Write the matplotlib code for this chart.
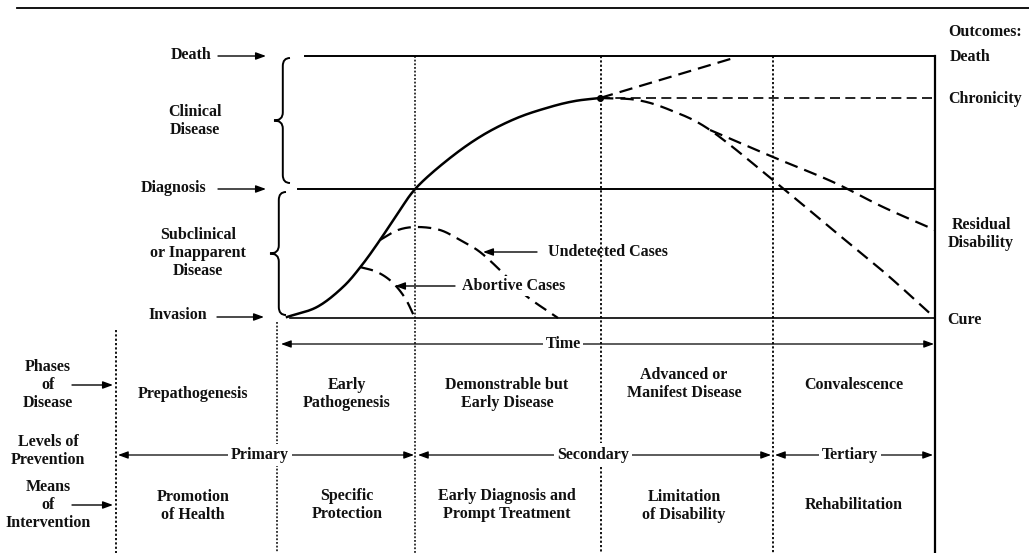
import numpy as np
import matplotlib
matplotlib.use("Agg")
import matplotlib.pyplot as plt
from matplotlib.path import Path
from matplotlib.patches import PathPatch

# ---------------- data (pixel coordinates) ----------------
# main disease course (solid)
course_x = [287, 317, 343, 362, 380, 398, 417, 450, 483, 517, 550, 575, 600]
course_y = [317, 307, 287, 265, 240, 213, 187, 158, 135, 118, 107, 101, 98]
# undetected cases (dashed)
undet_x = [380, 398, 417, 440, 460, 480, 503, 525, 558]
undet_y = [240, 230, 227, 230, 240, 252, 273, 295, 318]
# abortive cases (dashed)
abort_x = [360, 377, 392, 405, 415]
abort_y = [267, 272, 282, 298, 318]
# outcomes after the peak
death_x = [600, 737]
death_y = [98, 57]
chron_x = [600, 935]
chron_y = [98, 98]
cure_x = [600, 637, 670, 710, 773, 833, 885, 935]
cure_y = [98, 100, 110, 130, 180, 230, 273, 318]
resid_x = [710, 773, 833, 883, 935]
resid_y = [130, 157, 182, 207, 230]

level_names = ["Death", "Diagnosis", "Invasion"]
level_y = [56, 189, 318]
outcome_names = ["Outcomes:", "Death", "Chronicity", "Residual\nDisability", "Cure"]
phase_labels = ["Prepathogenesis", "Early\nPathogenesis", "Demonstrable but\nEarly Disease",
                "Advanced or\nManifest Disease", "Convalescence"]
means_labels = ["Promotion\nof Health", "Specific\nProtection", "Early Diagnosis and\nPrompt Treatment",
                "Limitation\nof Disability", "Rehabilitation"]
prevention_labels = ["Primary", "Secondary", "Tertiary"]
row_labels = ["Phases\nof\nDisease", "Levels of\nPrevention", "Means\nof\nIntervention"]

# ---------------- helpers ----------------
def smooth(xs, ys, n=20):
    p = np.column_stack([xs, ys]).astype(float)
    p = np.vstack([2 * p[0] - p[1], p, 2 * p[-1] - p[-2]])
    out = []
    for i in range(1, len(p) - 2):
        p0, p1, p2, p3 = p[i - 1], p[i], p[i + 1], p[i + 2]
        t = np.linspace(0, 1, n, endpoint=False)[:, None]
        seg = 0.5 * ((2 * p1) + (-p0 + p2) * t + (2 * p0 - 5 * p1 + 4 * p2 - p3) * t ** 2
                     + (-p0 + 3 * p1 - 3 * p2 + p3) * t ** 3)
        out.append(seg)
    out.append(p[-2][None, :])
    out = np.vstack(out)
    return out[:, 0], out[:, 1]


def brace(ax, x, ytop, ybot, w=16):
    ym = (ytop + ybot) / 2
    xm = x + w * 0.55
    r = 8
    verts = [(x + w, ytop), (xm, ytop), (xm, ytop + r), (xm, ytop + r),
             (xm, ym - r), (xm, ym), (x, ym),
             (xm, ym), (xm, ym + r), (xm, ym + r),
             (xm, ybot - r), (xm, ybot), (x + w, ybot)]
    codes = [Path.MOVETO, Path.CURVE3, Path.CURVE3, Path.LINETO,
             Path.LINETO, Path.CURVE3, Path.CURVE3,
             Path.CURVE3, Path.CURVE3, Path.LINETO,
             Path.LINETO, Path.CURVE3, Path.CURVE3]
    ax.add_patch(PathPatch(Path(verts, codes), fill=False, lw=1.4, color="k"))


def arrow(ax, x0, y0, x1, y1, lw=1.0):
    ax.annotate("", xy=(x1, y1), xytext=(x0, y0),
                arrowprops=dict(arrowstyle="-|>,head_length=0.6,head_width=0.22",
                                lw=lw, color="k", shrinkA=0, shrinkB=0))


# ---------------- figure ----------------
fig = plt.figure(figsize=(10.29, 5.53), dpi=100)
ax = fig.add_axes([0, 0, 1, 1])
ax.set_xlim(0, 1029)
ax.set_ylim(553, 0)
ax.axis("off")

FONT = "Liberation Serif"
fs = 11.5
LS = 1.2
txt = dict(family=FONT, fontsize=fs, fontweight="bold", color="#111111", zorder=5)
DASH = (0, (6, 3.2))
DOT = (0, (1.2, 1.2))

# top rule
ax.plot([17, 1029], [8, 8], color="k", lw=1.3)

# box horizontal levels
ax.plot([305, 935], [level_y[0]] * 2, color="k", lw=1.4)
ax.plot([298, 935], [level_y[1]] * 2, color="k", lw=1.4)
ax.plot([290, 935], [level_y[2]] * 2, color="k", lw=1.2)
ax.plot([935, 935], [56, 553], color="k", lw=1.6)

# dotted verticals
ax.plot([415, 415], [56, 553], color="k", lw=1.1, ls=DOT)
ax.plot([601, 601], [56, 443], color="k", lw=1.3, ls=DOT)
ax.plot([601, 601], [467, 553], color="k", lw=1.3, ls=DOT)
ax.plot([773, 773], [56, 553], color="k", lw=1.3, ls=DOT)
ax.plot([277, 277], [322, 445], color="k", lw=1.1, ls=DOT)
ax.plot([277, 277], [465, 553], color="k", lw=1.1, ls=DOT)
ax.plot([116, 116], [330, 553], color="k", lw=1.3, ls=DOT)

# curves
ax.plot(*smooth(course_x, course_y), color="k", lw=1.8)
ax.plot(*smooth(undet_x, undet_y), color="k", lw=1.6, ls=DASH)
ax.plot(*smooth(abort_x, abort_y), color="k", lw=1.6, ls=DASH)
ax.plot(death_x, death_y, color="k", lw=1.6, ls=DASH)
ax.plot(chron_x, chron_y, color="k", lw=1.2, ls=DASH)
ax.plot(*smooth(cure_x, cure_y), color="k", lw=1.6, ls=DASH)
ax.plot(*smooth(resid_x, resid_y), color="k", lw=1.6, ls=DASH)
ax.plot([course_x[-1]], [course_y[-1]], marker="o", ms=4, color="k")

# left level labels with arrows
ax.text(211, 55, level_names[0], ha="right", va="center", **txt)
arrow(ax, 218, 56, 266, 56)
ax.text(206, 188, level_names[1], ha="right", va="center", **txt)
arrow(ax, 218, 189, 266, 189)
ax.text(207, 315, level_names[2], ha="right", va="center", **txt)
arrow(ax, 217, 317, 264, 317)

ax.text(195, 121, "Clinical\nDisease", ha="center", va="center", linespacing=LS, **txt)
ax.text(198, 253, "Subclinical\nor Inapparent\nDisease", ha="center", va="center", linespacing=LS, **txt)
brace(ax, 274, 58, 183)
brace(ax, 270, 192, 315)

# curve annotations
arrow(ax, 537, 252, 483, 252)
ax.text(548, 252, "Undetected Cases", ha="left", va="center", **txt)
arrow(ax, 455, 286, 395, 286)
ax.text(462, 286, "Abortive Cases", ha="left", va="center",
        bbox=dict(fc="white", ec="none", pad=1.5), **txt)

# outcomes
ax.text(948, 32, outcome_names[0], ha="left", va="center", **txt)
ax.text(950, 57, outcome_names[1], ha="left", va="center", **txt)
ax.text(948, 99, outcome_names[2], ha="left", va="center", **txt)
ax.text(981, 234, outcome_names[3], ha="center", va="center", linespacing=LS, **txt)
ax.text(947, 320, outcome_names[4], ha="left", va="center", **txt)

# time arrow
arrow(ax, 563, 344, 281, 344, lw=0.9)
arrow(ax, 563, 344, 934, 344, lw=0.9)
ax.text(563, 344, "Time", ha="center", va="center",
        bbox=dict(fc="white", ec="none", pad=2), **txt)

# phases
phase_x = [193, 347, 507, 684, 854]
phase_y = [394, 394, 394, 384, 385]
for xx, yy, lab in zip(phase_x, phase_y, phase_labels):
    ax.text(xx, yy, lab, ha="center", va="center", linespacing=LS, **txt)

# prevention levels
prev_spans = [(118, 414), (418, 771), (775, 933)]
prev_x = [260, 593, 850]
for (a, b), xx, lab in zip(prev_spans, prev_x, prevention_labels):
    arrow(ax, xx, 455, a, 455, lw=0.9)
    arrow(ax, xx, 455, b, 455, lw=0.9)
    ax.text(xx, 455, lab, ha="center", va="center",
            bbox=dict(fc="white", ec="none", pad=2), **txt)

# means of intervention
means_y = [506, 505, 505, 506, 505]
for xx, yy, lab in zip(phase_x, means_y, means_labels):
    ax.text(xx, yy, lab, ha="center", va="center", linespacing=LS, **txt)

# row labels
ax.text(48, 385, row_labels[0], ha="center", va="center", linespacing=LS, **txt)
arrow(ax, 72, 385, 113, 385)
ax.text(48, 451, row_labels[1], ha="center", va="center", linespacing=LS, **txt)
ax.text(48, 505, row_labels[2], ha="center", va="center", linespacing=LS, **txt)
arrow(ax, 72, 505, 113, 505)

fig.savefig("out.png", dpi=100)
